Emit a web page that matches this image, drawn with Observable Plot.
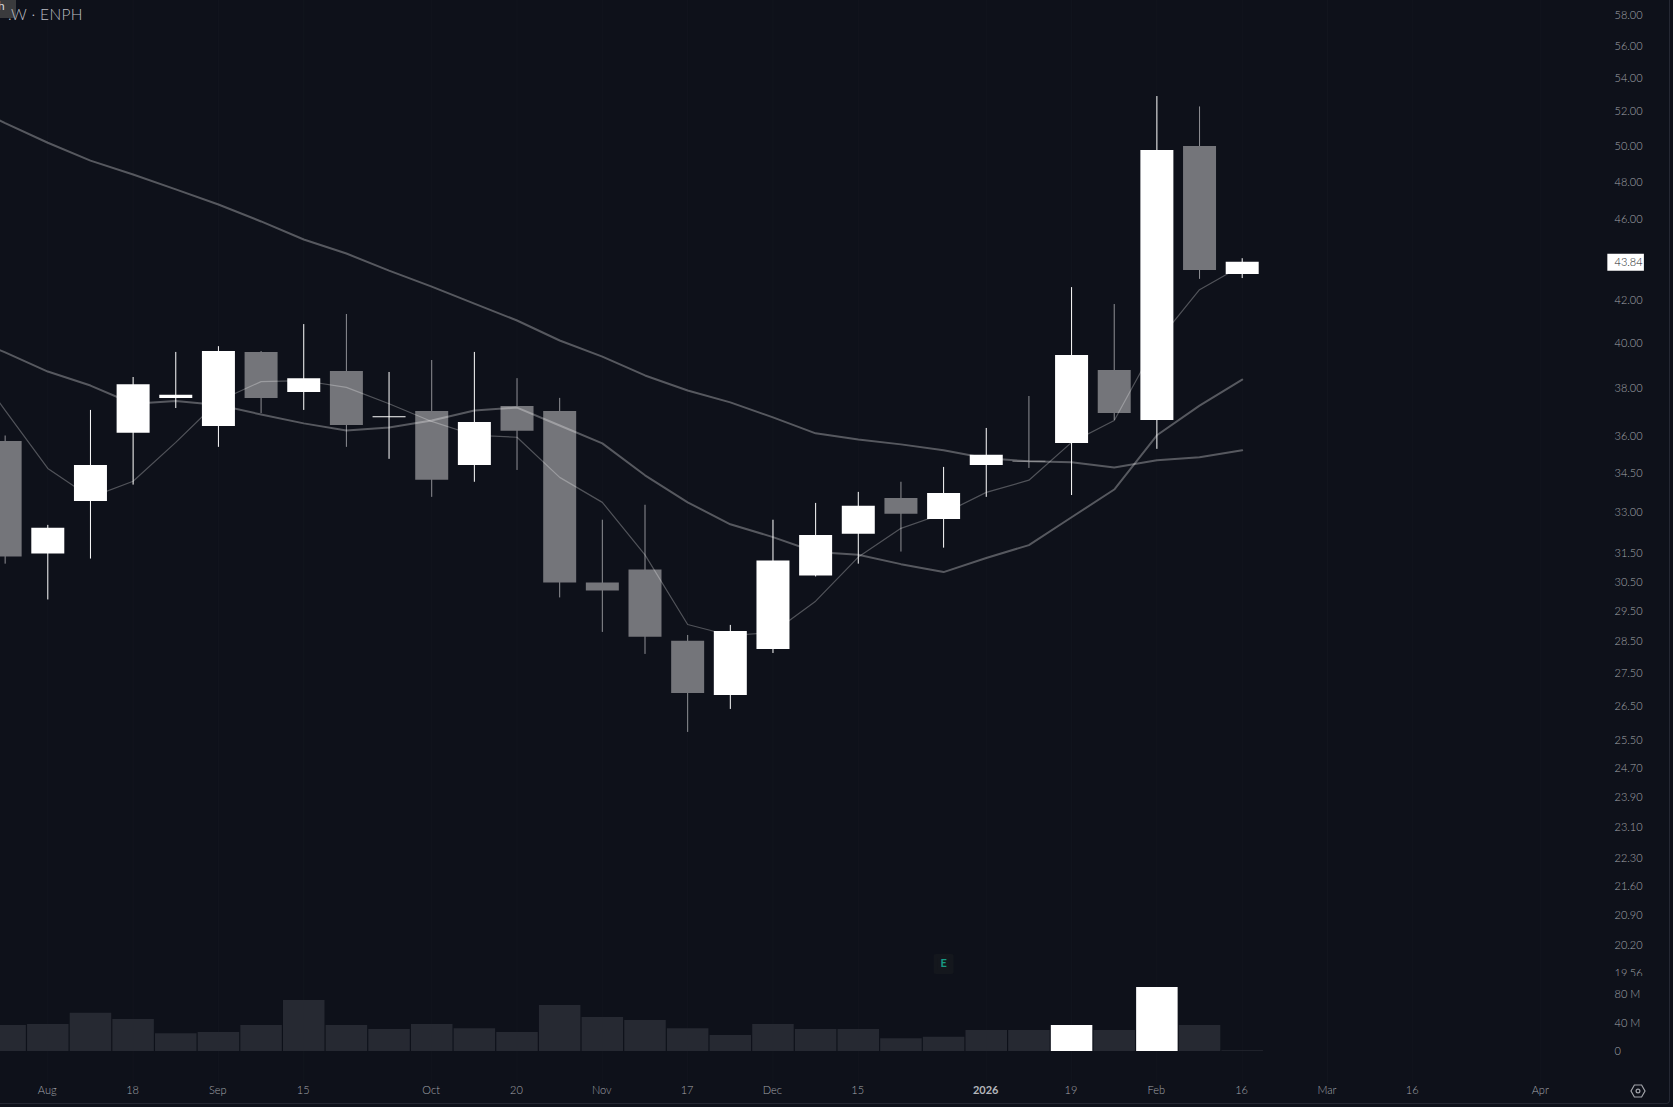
<!DOCTYPE html>
<html>
<head>
<meta charset="utf-8">
<style>
  html, body { margin: 0; padding: 0; background: #0e111a; width: 1673px; height: 1107px; overflow: hidden; }
  #stage { position: relative; width: 1673px; height: 1107px; overflow: hidden; font-family: Lato, sans-serif; }
  #stage svg.plot-pane { display: block; overflow: hidden; max-width: none; }
  #frame { position: absolute; left: 0; top: 0; width: 1669px; height: 1103px; border-right: 1px solid #252833; border-bottom: 1px solid #252833; border-bottom-right-radius: 4px; box-sizing: content-box; pointer-events: none; }
  #legend-tab { position: absolute; left: 0; top: 0; width: 16px; height: 18px; background: #3a3b3d; border-bottom-right-radius: 3px; color: #d8d8d8; font-size: 12px; line-height: 14px; overflow: hidden; }
  #legend-tab span { position: absolute; left: -2px; top: -1px; }
  #legend { position: absolute; left: 8px; top: 4px; color: #bcbec3; font-size: 15.5px; font-weight: 300; line-height: 20px; letter-spacing: 0.35px; }
  #gear { position: absolute; left: 1630px; top: 1083px; }
</style>
<script src="https://cdn.jsdelivr.net/npm/d3@7"></script>
<script src="https://cdn.jsdelivr.net/npm/@observablehq/plot@0.6"></script>
</head>
<body>
<div id="stage">
  <div id="charts"></div>
  <div id="frame"></div>
  <div id="legend-tab"><span>h</span></div>
  <div id="legend">.W · ENPH</div>
  <svg id="gear" width="16" height="16" viewBox="0 0 16 16" fill="none" stroke="#a2a4aa" stroke-width="1.2"><path d="M4.4 2h7.2L15 8l-3.4 6H4.4L1 8z"/><circle cx="8" cy="8" r="1.9"/></svg>
</div>
<script>
// Weekly bar dates (Mondays, UTC)
const weeks = ["2025-07-28","2025-08-04","2025-08-11","2025-08-18","2025-08-25","2025-09-01","2025-09-08","2025-09-15","2025-09-22","2025-09-29","2025-10-06","2025-10-13","2025-10-20","2025-10-27","2025-11-03","2025-11-10","2025-11-17","2025-11-24","2025-12-01","2025-12-08","2025-12-15","2025-12-22","2025-12-29","2026-01-05","2026-01-12","2026-01-19","2026-01-26","2026-02-02","2026-02-09","2026-02-16"];
// body top / body bottom (max and min of open, close), wick high / wick low
const highs = [36.00,32.53,37.06,38.47,39.58,39.84,39.62,40.85,41.32,38.69,39.22,39.58,38.42,37.57,32.72,33.28,28.71,29.04,32.72,33.35,33.77,34.16,34.74,36.31,37.65,42.60,41.79,52.91,52.29,44.02];
const bodyTop = [35.78,32.42,34.82,38.16,37.70,39.62,39.58,38.42,38.73,36.79,37.02,36.56,37.23,37.02,30.47,30.92,28.52,28.84,31.24,32.16,33.24,33.54,33.73,35.22,34.98,39.44,38.78,49.77,50.00,43.84];
const bodyBot = [31.38,31.49,33.42,36.11,37.57,36.39,37.57,37.82,36.43,36.75,34.24,34.82,36.19,30.47,30.20,28.65,26.88,26.82,28.26,30.71,32.20,32.94,32.75,34.82,34.94,35.70,36.93,36.64,43.43,43.24];
const lows = [31.13,29.89,31.31,34.05,37.14,35.54,36.93,37.06,35.54,35.06,33.58,34.16,34.62,29.96,28.81,28.10,25.72,26.40,28.13,30.68,31.13,31.56,31.70,33.58,34.70,33.65,36.64,35.46,43.00,43.04];
const isUp = [0,1,1,1,1,1,0,1,0,1,0,1,0,0,0,0,0,1,1,1,1,0,1,1,0,1,0,1,0,1];
const volumeM = [36.5,38,53.7,45,25,26.7,36.5,71.6,36.5,30.9,38,32,26.7,64.6,47.7,43.5,32,22.5,38,31,31,18,20,29.5,29.5,36.5,29.5,90,36.5,1];
const volumeHighlight = [0,0,0,0,0,0,0,0,0,0,0,0,0,0,0,0,0,0,0,0,0,0,0,0,0,1,0,1,0,0];
// Moving averages, from the week before the first bar through the last bar
const maWeeks = ["2025-07-21"].concat(weeks);
const maLong = [52.6,51.34,50.21,49.20,48.43,47.62,46.81,45.92,44.99,44.28,43.43,42.65,41.83,41.04,40.12,39.39,38.56,37.91,37.40,36.77,36.11,35.86,35.66,35.42,35.10,34.98,34.94,34.74,35.02,35.14,35.42];
const maMid = [40.4,39.58,38.73,38.12,37.34,37.46,37.29,36.89,36.52,36.23,36.35,36.64,37.06,37.18,36.43,35.70,34.43,33.39,32.57,32.10,31.56,31.46,31.13,30.85,31.35,31.81,32.83,33.88,36.03,37.26,38.38];
const maShort = [39.66,37.06,34.70,33.58,34.20,35.74,37.46,38.29,38.33,38.04,37.34,36.60,36.03,35.95,34.35,33.39,31.46,29.07,28.71,28.81,29.85,31.38,32.42,32.97,33.77,34.24,35.74,36.64,40.03,42.50,43.68];
// Axis ticks
const xTickDates = ["2025-08-04","2025-08-18","2025-09-01","2025-09-15","2025-10-06","2025-10-20","2025-11-03","2025-11-17","2025-12-01","2025-12-15","2026-01-19","2026-02-02","2026-02-16","2026-03-02","2026-03-16","2026-04-06"];
const xTickLabels = ["Aug","18","Sep","15","Oct","20","Nov","17","Dec","15","19","Feb","16","Mar","16","Apr"];
const yearDate = "2026-01-05";
const yearLabel = "2026";
const priceTicks = [58,56,54,52,50,48,46,42,40,38,36,34.5,33,31.5,30.5,29.5,28.5,27.5,26.5,25.5,24.7,23.9,23.1,22.3,21.6,20.9,20.2,19.56];
const lastPrice = 43.84;
const volumeTicks = [80,40,0];
const volumeLabels = ["80 M","40 M","0"];
const earningsDate = "2025-12-29";
const earningsLevel = 19.78;
const labelBoxStart = "2026-04-17", labelBoxEnd = "2026-04-23";

const white = "#ffffff", gray = "#74757a", grayWick = "#8f9095", textColor = "#a3a5ab", grid = "#12151e", light = 300;
const d = s => new Date(s + "T00:00:00Z");
const xTime = {type: "utc", domain: [d("2025-08-04"), d("2026-04-06")], range: [47.3, 1540.3]};
const priceCfg = {type: "log", domain: [19.50, 59], range: [976, 0]};
const allTickDates = xTickDates.concat([yearDate]).map(d);

const candles = weeks.map((w, i) => ({date: d(w), high: highs[i], low: lows[i], top: bodyTop[i], bot: bodyBot[i], up: isUp[i], vol: volumeM[i], hi: volumeHighlight[i]}));
const maRows = vals => maWeeks.map((w, i) => ({date: d(w), v: vals[i]}));
const labelFor = t => { const i = xTickDates.findIndex(s => +d(s) === +t); return i < 0 ? "" : xTickLabels[i]; };

const pricePlot = Plot.plot({
  width: 1673, height: 976,
  marginTop: 0, marginBottom: 0, marginLeft: 0, marginRight: 59,
  style: {background: "transparent", overflow: "hidden"},
  x: {...xTime, axis: null},
  y: priceCfg,
  marks: [
    Plot.ruleX(allTickDates, {stroke: grid, strokeWidth: 1}),
    Plot.ruleX(candles, {x: "date", y1: "low", y2: "high", stroke: c => c.up ? white : grayWick, strokeWidth: 1}),
    Plot.ruleX(candles, {x: "date", y1: "bot", y2: "top", stroke: c => c.up ? white : gray, strokeWidth: 33}),
    Plot.line(maRows(maLong), {x: "date", y: "v", stroke: white, strokeOpacity: 0.3, strokeWidth: 2}),
    Plot.line(maRows(maMid), {x: "date", y: "v", stroke: white, strokeOpacity: 0.3, strokeWidth: 2}),
    Plot.line(maRows(maShort), {x: "date", y: "v", stroke: white, strokeOpacity: 0.28, strokeWidth: 1.2}),
    Plot.dot([{date: d(earningsDate), v: earningsLevel}], {x: "date", y: "v", symbol: "square", r: 9, fill: "#14171d", stroke: "#14171d", strokeWidth: 4, strokeLinejoin: "round"}),
    Plot.text([{date: d(earningsDate), v: earningsLevel}], {x: "date", y: "v", text: () => "E", fill: "#179a84", fontSize: 11, fontWeight: 700, fontFamily: "Lato, sans-serif"}),
    Plot.ruleY([lastPrice], {x1: d(labelBoxStart), x2: d(labelBoxEnd), stroke: white, strokeWidth: 17}),
    Plot.axisY({anchor: "right", ticks: priceTicks.concat([lastPrice]), tickSize: 0, tickPadding: 0, textAnchor: "start", label: null,
      tickFormat: v => v.toFixed(2), fill: v => v === lastPrice ? "#15171b" : textColor, fontSize: 11, fontWeight: light, fontFamily: "Lato, sans-serif"})
  ]
});

const volPlot = Plot.plot({
  width: 1673, height: 131,
  marginTop: 0, marginBottom: 24, marginLeft: 0, marginRight: 59,
  style: {background: "transparent", overflow: "hidden"},
  x: {...xTime, axis: null},
  y: {domain: [0, 80], range: [75, 18]},
  marks: [
    Plot.ruleX(allTickDates, {stroke: grid, strokeWidth: 1}),
    Plot.ruleX(candles, {x: "date", y1: 0, y2: "vol", stroke: c => c.hi ? white : "#262932", strokeWidth: 41.5}),
    Plot.axisY({anchor: "right", ticks: volumeTicks, tickSize: 0, tickPadding: 0, textAnchor: "start", label: null,
      tickFormat: v => volumeLabels[volumeTicks.indexOf(v)], fill: textColor, fontSize: 11, fontWeight: light, fontFamily: "Lato, sans-serif"}),
    Plot.axisX({anchor: "bottom", ticks: xTickDates.map(d), tickSize: 0, tickPadding: 3, dx: -0.6, label: null, tickFormat: labelFor, fill: textColor, fontSize: 11, fontWeight: light, fontFamily: "Lato, sans-serif"}),
    Plot.axisX({anchor: "bottom", ticks: [d(yearDate)], tickSize: 0, tickPadding: 3, dx: -0.6, label: null, tickFormat: () => yearLabel, fill: "#b4b6bb", fontSize: 11, fontWeight: 700, fontFamily: "Lato, sans-serif"})
  ]
});

for (const p of [pricePlot, volPlot]) { p.classList.add("plot-pane"); document.getElementById("charts").appendChild(p); }
</script>
</body>
</html>
